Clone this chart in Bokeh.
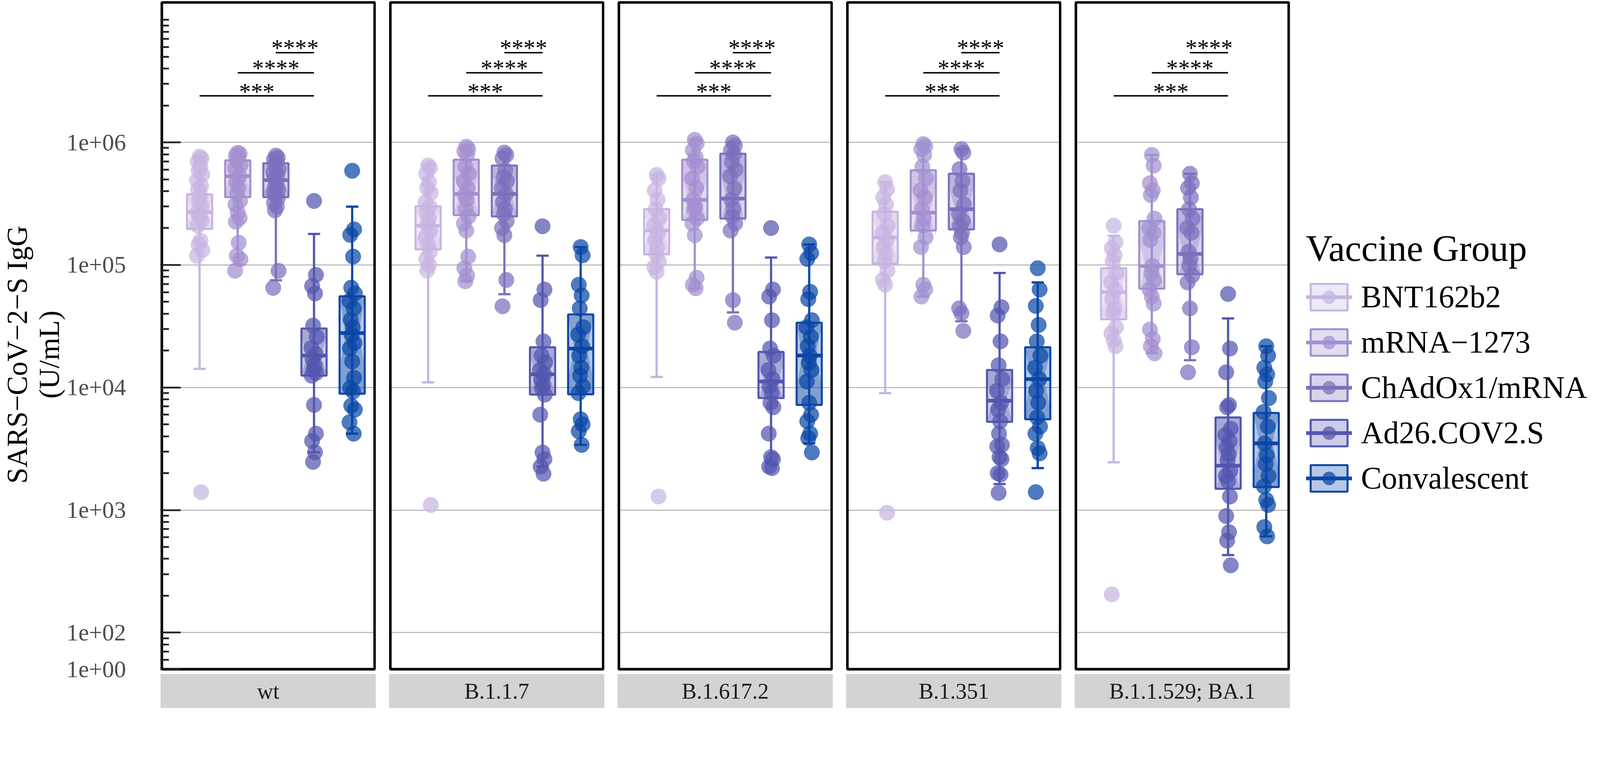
import math
from bokeh.plotting import figure
from bokeh.models import Range1d, FixedTicker, Label, Legend, LegendItem, ColumnDataSource, Grid
from bokeh.layouts import row
from bokeh.embed import file_html
from bokeh.resources import INLINE
from bokeh.core.properties import value

FONT = "Liberation Serif"

VARIANTS = ["wt", "B.1.1.7", "B.1.617.2", "B.1.351", "B.1.1.529; BA.1"]
GROUPS = ["BNT162b2", "mRNA\u22121273", "ChAdOx1/mRNA", "Ad26.COV2.S", "Convalescent"]
COLORS = ["#c6b5e2", "#a290d0", "#7c70be", "#5356af", "#0a46a6"]
Y_TITLE = "SARS\u2212CoV\u22122\u2212S IgG\n(U/mL)"
LEGEND_TITLE = "Vaccine Group"

# ---- individual values (U/mL) ----
WT_BNT = [765000, 740000, 700000, 630000, 590000, 545000, 490000, 440000, 410000, 370000, 335000,
          300000, 270000, 250000, 232000, 210000, 158000, 147000, 132000, 119000, 1400]
WT_MRNA = [823000, 808000, 780000, 753000, 714000, 653000, 609000, 528000, 475000, 427000, 384000,
           333000, 311000, 269000, 242000, 225000, 152000, 119000, 111000, 89600]
WT_CHAD = [780000, 753000, 727000, 701000, 653000, 600000, 567000, 540000, 509000, 458000, 430000,
           412000, 390000, 371000, 350000, 321000, 299000, 279000, 89600, 65000]
WT_AD26 = [333000, 83000, 67400, 58500, 32000, 25900, 21000, 18800, 17000, 15200, 14000, 13200,
           12500, 7200, 4200, 3660, 2960, 2470]
WT_CONV = [587000, 195000, 176000, 117000, 65200, 58500, 50800, 44100, 35600, 30900, 27000, 23100,
           20900, 16300, 12000, 9900, 9300, 7100, 6600, 5200, 4200]

B117_BNT = [647000, 620000, 555000, 475000, 425000, 389000, 326000, 298000, 272000, 239000, 214000,
            191000, 167000, 146000, 128000, 112000, 100000, 90000, 1100]
B117_MRNA = [923000, 883000, 845000, 790000, 633000, 555000, 485000, 425000, 372000, 340000, 285000,
             249000, 218000, 191000, 117000, 94000, 82000, 73600]
B117_CHAD = [826000, 790000, 740000, 593000, 520000, 485000, 425000, 380000, 326000, 285000, 260000,
             228000, 200000, 175000, 75400, 46000]
B117_AD26 = [207000, 63000, 51700, 23800, 18200, 16000, 13900, 12800, 11700, 10500, 9800, 8750, 6000,
             2950, 2600, 2260, 1980]
B117_CONV = [140000, 120000, 68900, 56400, 44200, 31000, 27000, 21700, 18200, 14500, 12500, 10200,
             9000, 5500, 5000, 4400, 3400]

B16172_BNT = [543000, 507000, 406000, 340000, 285000, 239000, 209000, 183000, 160000, 140000, 123000,
              107000, 96000, 88000, 1290]
B16172_MRNA = [1050000, 980000, 863000, 756000, 700000, 633000, 507000, 425000, 340000, 300000,
               285000, 240000, 218000, 175000, 78700, 68900, 64500]
B16172_CHAD = [1000000, 944000, 863000, 800000, 692000, 600000, 530000, 420000, 340000, 285000,
               249000, 218000, 191000, 51600, 33800]
B16172_AD26 = [200000, 63000, 55200, 35400, 20800, 18200, 13900, 11700, 10200, 9000, 7500, 6900, 4200,
               2700, 2600, 2260, 2200]
B16172_CONV = [147000, 125000, 112000, 60300, 52600, 35400, 31000, 25900, 21700, 18200, 15900, 13900,
               11200, 7500, 6000, 5300, 4200, 3860, 2950]

B1351_BNT = [474000, 415000, 356000, 311000, 261000, 209000, 183000, 160000, 140000, 123000, 107000,
             90000, 75400, 69000, 950]
B1351_MRNA = [970000, 930000, 883000, 790000, 633000, 507000, 406000, 356000, 285000, 239000, 209000,
              168000, 140000, 69000, 63000, 55200]
B1351_CHAD = [883000, 826000, 606000, 485000, 406000, 311000, 261000, 228000, 209000, 183000, 168000,
              140000, 44200, 40400, 29000]
B1351_AD26 = [147000, 45200, 38700, 23800, 15200, 11700, 9400, 7500, 6600, 5300, 4200, 3400, 3300,
              2700, 2600, 2000, 1950, 1380]
B1351_CONV = [94000, 63000, 46300, 32400, 23800, 18200, 14500, 11700, 9400, 7500, 5700, 4800, 4200,
              3200, 2900, 1400]

BA1_BNT = [209000, 153000, 137000, 120000, 107000, 86000, 72000, 63000, 52800, 44200, 40400, 31000,
           27700, 24300, 21700, 205]
BA1_MRNA = [790000, 647000, 464000, 406000, 372000, 239000, 200000, 183000, 160000, 98000, 86000,
            75400, 63000, 55200, 48400, 29700, 24900, 21700, 19000]
BA1_CHAD = [555000, 464000, 425000, 356000, 285000, 239000, 200000, 183000, 128000, 112000, 98000,
            82000, 72000, 44200, 21300, 13300]
BA1_AD26 = [58000, 20800, 13300, 7200, 6900, 4600, 4100, 3650, 3260, 2870, 2530, 2090, 1900, 1720,
            1290, 894, 660, 563, 354]
BA1_CONV = [21700, 18200, 14500, 12800, 11200, 8200, 6300, 4800, 3500, 2800, 2370, 1900, 1560, 1210,
            1100, 726, 610]

# ---- box statistics per variant (order of GROUPS) ----
WT_LO = [14200, 101000, 75000, 2960, 4200]
WT_Q1 = [197000, 357000, 357000, 12500, 8900]
WT_MED = [270000, 530000, 492000, 18200, 27800]
WT_Q3 = [377000, 714000, 677000, 30300, 55500]
WT_HI = [765000, 823000, 780000, 179000, 299000]

B117_LO = [11000, 73600, 57700, 2260, 3400]
B117_Q1 = [134000, 255000, 249000, 8750, 8800]
B117_MED = [209000, 380000, 380000, 12800, 20800]
B117_Q3 = [301000, 723000, 647000, 21300, 39500]
B117_HI = [647000, 923000, 826000, 119000, 140000]

B16172_LO = [12200, 64500, 41000, 2400, 3500]
B16172_Q1 = [122000, 233000, 239000, 8200, 7200]
B16172_MED = [191000, 340000, 348000, 11200, 18200]
B16172_Q3 = [285000, 723000, 808000, 19500, 33800]
B16172_HI = [543000, 1050000, 1000000, 115000, 147000]

B1351_LO = [9000, 55200, 34700, 1630, 2200]
B1351_Q1 = [103000, 191000, 195000, 5250, 5500]
B1351_MED = [168000, 267000, 285000, 7800, 11700]
B1351_Q3 = [272000, 593000, 555000, 13900, 21300]
B1351_HI = [474000, 970000, 883000, 86000, 72000]

BA1_LO = [2450, 19000, 16700, 429, 610]
BA1_Q1 = [36000, 64000, 84000, 1490, 1540]
BA1_MED = [60000, 98000, 123000, 2300, 3500]
BA1_Q3 = [94000, 228000, 285000, 5700, 6200]
BA1_HI = [173000, 790000, 555000, 36600, 21700]

# ---- significance brackets (same in every panel) ----
SIG_FROM = [1, 2, 3]
SIG_TO = [4, 4, 4]
SIG_Y = [2.4e6, 3.7e6, 5.4e6]
SIG_TEXT_Y = [2.6e6, 4.03e6, 5.9e6]
SIG_LABEL = ["***", "****", "****"]

# ---- y tick labels ----
TICK_LABELS = ["1e+00", "1e+02", "1e+03", "1e+04", "1e+05", "1e+06"]

POINTS = {
    "wt": [WT_BNT, WT_MRNA, WT_CHAD, WT_AD26, WT_CONV],
    "B.1.1.7": [B117_BNT, B117_MRNA, B117_CHAD, B117_AD26, B117_CONV],
    "B.1.617.2": [B16172_BNT, B16172_MRNA, B16172_CHAD, B16172_AD26, B16172_CONV],
    "B.1.351": [B1351_BNT, B1351_MRNA, B1351_CHAD, B1351_AD26, B1351_CONV],
    "B.1.1.529; BA.1": [BA1_BNT, BA1_MRNA, BA1_CHAD, BA1_AD26, BA1_CONV],
}
STATS = {
    "wt": (WT_LO, WT_Q1, WT_MED, WT_Q3, WT_HI),
    "B.1.1.7": (B117_LO, B117_Q1, B117_MED, B117_Q3, B117_HI),
    "B.1.617.2": (B16172_LO, B16172_Q1, B16172_MED, B16172_Q3, B16172_HI),
    "B.1.351": (B1351_LO, B1351_Q1, B1351_MED, B1351_Q3, B1351_HI),
    "B.1.1.529; BA.1": (BA1_LO, BA1_Q1, BA1_MED, BA1_Q3, BA1_HI),
}

# ---- layout (designed in picture pixels, then scaled to CSS pixels) ----
S = 0.948


def px(v):
    return v * S


def ipx(v):
    return int(round(px(v)))


def fs(v):
    return "%.1fpx" % px(v)


U = px(103.0)                  # CSS px per category step
X0, X1 = 0.01, 5.59            # panel border in x units
PADX = 4.0 / 103.0
FRAME_W = int(round((X1 - X0 + 2 * PADX) * U))
FRAME_H = ipx(1910)
X_LO = X0 - PADX
X_HI = X_LO + FRAME_W / U
LEFT_W = ipx(432)
GAP_W = ipx(617) - FRAME_W
PAGE_W = ipx(4312)
RIGHT_W = PAGE_W - (LEFT_W + FRAME_W + 4 * (GAP_W + FRAME_W))
DEC = px(331.0)
OFF6 = px(382.0)


def yv(off_ref):
    """log-axis value at a vertical offset (picture px) from the frame top"""
    return 10 ** (6 - (px(off_ref) - OFF6) / DEC)


Y_END = 10 ** (6 + OFF6 / DEC)
Y_START = 10 ** (6 - (FRAME_H - OFF6) / DEC)
PANEL_TOP, PANEL_BOT = yv(4), yv(1805)
STRIP_TOP, STRIP_MID = yv(1818), yv(1864)
BW = 0.66          # box width
CAP = 0.32         # whisker cap width
JITTER = [0.0, 0.05, -0.05, 0.025, -0.025, 0.07, -0.07, 0.04, -0.04, 0.015, -0.015, 0.06, -0.06]

MAJOR = [PANEL_BOT, 1e2, 1e3, 1e4, 1e5, 1e6]
MINOR = [m * 10 ** e for e in range(1, 7) for m in range(2, 10) if m * 10 ** e > PANEL_BOT] + [1e7]

# legend anchor (bottom-left corner, inside its side panel)
LEG_X = ipx(43)
LEG_Y = ipx(573)


def make_panel(i, variant):
    first = i == 0
    last = i == len(VARIANTS) - 1
    p = figure(frame_width=FRAME_W, frame_height=FRAME_H,
               x_range=Range1d(X_LO, X_HI), y_range=Range1d(Y_START, Y_END),
               y_axis_type="log", x_axis_location=None,
               y_axis_location="left" if first else None,
               output_backend="svg", toolbar_location=None,
               min_border_left=LEFT_W if first else GAP_W,
               min_border_right=RIGHT_W if last else 0,
               min_border_top=ipx(2), min_border_bottom=0,
               outline_line_color=None, background_fill_color="white", border_fill_color="white")
    p.xgrid.visible = False
    p.ygrid.visible = False
    p.add_layout(Grid(dimension=1, ticker=FixedTicker(ticks=[1e2, 1e3, 1e4, 1e5, 1e6]),
                      grid_line_color="#bdbdbd", grid_line_width=px(3)))

    if first:
        ax = p.yaxis[0]
        ax.ticker = FixedTicker(ticks=MAJOR, minor_ticks=MINOR)
        ax.major_label_overrides = {t: lab for t, lab in zip(MAJOR, TICK_LABELS)}
        ax.axis_line_color = None
        ax.major_tick_in = ipx(55)
        ax.major_tick_out = 0
        ax.minor_tick_in = ipx(23)
        ax.minor_tick_out = 0
        ax.major_tick_line_width = px(5)
        ax.minor_tick_line_width = px(5)
        ax.major_tick_line_color = "#222222"
        ax.minor_tick_line_color = "#222222"
        ax.major_label_text_font = FONT
        ax.major_label_text_font_size = fs(64)
        ax.major_label_text_color = "#4d4d4d"
        ax.major_label_standoff = ipx(93)
        ax.axis_label = Y_TITLE
        ax.axis_label_text_font = FONT
        ax.axis_label_text_font_size = fs(78)
        ax.axis_label_text_font_style = "normal"
        ax.axis_label_text_color = "black"
        ax.axis_label_text_line_height = 1.0
        ax.axis_label_standoff = 0

    lo, q1, md, q3, hi = STATS[variant]
    legend_parts = []
    for g in range(5):
        x = g + 1
        col = COLORS[g]
        vals = POINTS[variant][g]
        n = len(vals)
        src = ColumnDataSource(dict(x=[x], xl=[x - BW / 2], xr=[x + BW / 2],
                                    cl=[x - CAP / 2], cr=[x + CAP / 2],
                                    lo=[lo[g]], q1=[q1[g]], md=[md[g]], q3=[q3[g]], hi=[hi[g]]))
        # whisker (errorbar)
        p.segment(x0="x", y0="lo", x1="x", y1="hi", source=src, line_color=col, line_width=px(6))
        p.segment(x0="cl", y0="lo", x1="cr", y1="lo", source=src, line_color=col, line_width=px(6))
        p.segment(x0="cl", y0="hi", x1="cr", y1="hi", source=src, line_color=col, line_width=px(6))
        # box
        box_r = p.quad(left="xl", right="xr", bottom="q1", top="q3", source=src,
                       fill_color=col, fill_alpha=0.3, line_color=col, line_width=px(5.5))
        # notch shape
        lq1, lmd, lq3 = math.log10(q1[g]), math.log10(md[g]), math.log10(q3[g])
        d = 1.58 * (lq3 - lq1) / math.sqrt(n)
        nu, nl = 10 ** (lmd + d), 10 ** (lmd - d)
        xl, xr, ni = x - BW / 2, x + BW / 2, BW / 4
        p.patch(x=[xl, xl, xl + ni, xl, xl, xr, xr, xr - ni, xr, xr],
                y=[q3[g], nu, md[g], nl, q1[g], q1[g], nl, md[g], nu, q3[g]],
                fill_color=col, fill_alpha=0.3, line_color=None)
        med_r = p.segment(x0="xl", y0="md", x1="xr", y1="md", source=src, line_color=col,
                          line_width=px(10))
        # points
        xs = [x + JITTER[k % len(JITTER)] for k in range(n)]
        pt_r = p.scatter(x=xs, y=vals, size=px(42), fill_color=col, fill_alpha=0.72,
                         line_color=col, line_alpha=0.5, line_width=1)
        legend_parts.append((GROUPS[g], [box_r, med_r, pt_r]))

    # significance brackets
    sig = ColumnDataSource(dict(x0=SIG_FROM, x1=SIG_TO, y=SIG_Y,
                                xm=[(a + b) / 2 for a, b in zip(SIG_FROM, SIG_TO)],
                                ty=SIG_TEXT_Y, lab=SIG_LABEL))
    p.segment(x0="x0", y0="y", x1="x1", y1="y", source=sig, line_color="black", line_width=px(4))
    p.text(x="xm", y="ty", text="lab", source=sig, text_font=value(FONT), text_font_size=fs(64),
           text_align="center", text_baseline="middle", text_color="black")

    # strip
    p.quad(left=[X0 - 0.034], right=[X1 + 0.034], bottom=[Y_START], top=[STRIP_TOP],
           fill_color="#d3d3d3", line_color=None)
    p.add_layout(Label(x=(X0 + X1) / 2, y=STRIP_MID, text=variant, text_font=FONT,
                       text_font_size=fs(60), text_color="#1a1a1a", text_align="center",
                       text_baseline="middle"))
    # panel border
    p.quad(left=[X0], right=[X1], bottom=[PANEL_BOT], top=[PANEL_TOP],
           fill_color=None, line_color="black", line_width=px(7))
    return p, legend_parts


panels = []
for i, v in enumerate(VARIANTS):
    p, parts = make_panel(i, v)
    panels.append(p)
    if i == len(VARIANTS) - 1:
        items = [LegendItem(label=lab, renderers=rs) for lab, rs in parts]
        legend = Legend(items=items, title=LEGEND_TITLE, location=(LEG_X, LEG_Y),
                        orientation="vertical",
                        title_text_font=FONT, title_text_font_size=fs(100),
                        title_text_font_style="normal", title_text_color="black",
                        title_standoff=ipx(25),
                        label_text_font=FONT, label_text_font_size=fs(84), label_text_color="black",
                        label_standoff=ipx(24), glyph_width=ipx(124),
                        glyph_height=ipx(90), label_height=ipx(90),
                        spacing=ipx(26), padding=ipx(8), margin=0,
                        border_line_color=None, background_fill_alpha=0)
        p.add_layout(legend, "right")

layout = row(*panels, spacing=0)
open("out.html", "w").write(file_html(layout, INLINE))
